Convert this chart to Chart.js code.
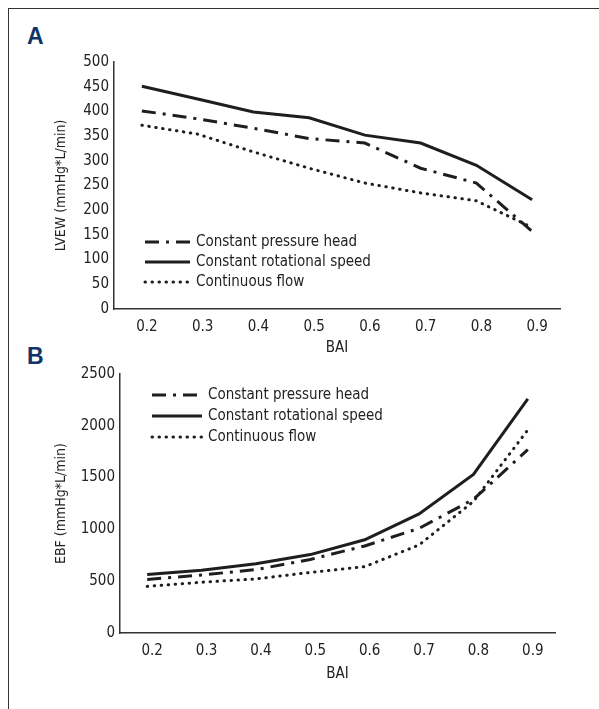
<!DOCTYPE html>
<html>
<head>
<meta charset="utf-8">
<title>LVEW and EBF vs BAI</title>
<script src="https://cdn.jsdelivr.net/npm/chart.js@4.4.1/dist/chart.umd.min.js"></script>
<style>
  body {
    margin: 0;
    background: #fff;
    width: 599px;
    height: 709px;
    position: relative;
    overflow: hidden;
  }
  .frame {
    position: absolute;
    left: 8px;
    top: 8px;
    right: 0;
    bottom: 0;
    border-top: 1px solid #333;
    border-left: 1px solid #333;
  }
  .tag {
    position: absolute;
    left: 27px;
    font: bold 23px "Liberation Sans", Arial, sans-serif;
    line-height: 1;
    color: #10346a;
  }
  canvas {
    position: absolute;
    left: 10px;
  }
</style>
</head>
<body>
<div class="frame"></div>
<div class="tag" style="top:25px">A</div>
<div class="tag" style="top:345px">B</div>
<canvas id="lvewChart" width="580" height="340" style="top:20px"></canvas>
<canvas id="ebfChart" width="580" height="345" style="top:360px"></canvas>
<script>
// BAI categories
const bai = ["0.2", "0.3", "0.4", "0.5", "0.6", "0.7", "0.8", "0.9"];
const seriesNames = ["Constant pressure head", "Constant rotational speed", "Continuous flow"];

// A: LVEW (mmHg*L/min)
const lvewPressureHead = [401, 385, 366, 345, 336, 285, 255, 157];
const lvewRotationalSpeed = [451, 425, 399, 387, 352, 336, 291, 221];
const lvewContinuousFlow = [372, 354, 318, 285, 255, 235, 219, 165];

// B: EBF (mmHg*L/min)
const ebfPressureHead = [517, 560, 612, 710, 840, 1010, 1290, 1770];
const ebfRotationalSpeed = [565, 605, 668, 757, 900, 1150, 1530, 2260];
const ebfContinuousFlow = [450, 490, 522, 585, 640, 850, 1270, 1960];

const FONT = "'Liberation Sans Narrow', 'DejaVu Sans Condensed', sans-serif";
const INK = "#222";

// legend drawn inside the plot, line sample + label
const lineKey = {
  id: "lineKey",
  afterDatasetsDraw(chart, args, opts) {
    const { ctx, chartArea } = chart;
    ctx.save();
    chart.data.datasets.forEach((ds, i) => {
      const x = chartArea.left + opts.x;
      const y = chartArea.top + opts.y + i * opts.gap;
      ctx.beginPath();
      ctx.setLineDash(ds.borderDash || []);
      ctx.lineCap = ds.borderCapStyle || "butt";
      ctx.lineWidth = ds.borderWidth;
      ctx.strokeStyle = ds.borderColor;
      ctx.moveTo(x, y);
      ctx.lineTo(x + opts.len, y);
      ctx.stroke();
      ctx.setLineDash([]);
      ctx.fillStyle = INK;
      ctx.font = "15px " + FONT;
      ctx.textBaseline = "middle";
      ctx.fillText(ds.label, x + opts.len + 6, y);
    });
    ctx.restore();
  }
};

function lineSet(label, data, style) {
  return Object.assign({
    label,
    data,
    borderColor: "#1e1e1e",
    borderWidth: 3,
    pointRadius: 0,
    fill: false,
    tension: 0
  }, style);
}

const dashDot = { borderDash: [14, 7, 3, 7] };
const solid = {};
const dotted = { borderDash: [0.5, 6.5], borderCapStyle: "round" };

function makeChart(id, values, cfg) {
  const ctx = document.getElementById(id).getContext("2d");
  return new Chart(ctx, {
    type: "line",
    data: {
      labels: bai,
      datasets: [
        lineSet(seriesNames[0], values[0], dashDot),
        lineSet(seriesNames[1], values[1], solid),
        lineSet(seriesNames[2], values[2], dotted)
      ]
    },
    plugins: [lineKey],
    options: {
      responsive: false,
      animation: false,
      devicePixelRatio: 1,
      layout: { padding: cfg.padding },
      plugins: {
        legend: { display: false },
        tooltip: { enabled: false },
        lineKey: cfg.key
      },
      scales: {
        x: {
          offset: true,
          grid: { display: false, drawTicks: false },
          border: { display: true, color: "#333", width: 1.5 },
          ticks: { color: INK, font: { family: FONT, size: 15 }, padding: 9, labelOffset: 5 },
          title: {
            display: true, text: "BAI", color: INK,
            font: { family: FONT, size: 15 },
            padding: { top: 0, bottom: cfg.xTitlePad }
          },
          afterFit(s) { s.height = cfg.xHeight; }
        },
        y: {
          min: 0,
          max: cfg.max,
          grid: { display: false, drawTicks: false },
          border: { display: true, color: "#333", width: 1.5 },
          ticks: {
            stepSize: cfg.step, color: INK, font: { family: FONT, size: 15 }, padding: 5,
            callback: v => String(v)
          },
          title: {
            display: true, text: cfg.yTitle, color: INK,
            font: { family: FONT, size: 14 },
            padding: { top: 43, bottom: 0 }
          },
          afterFit(s) { s.width = cfg.yWidth; }
        }
      }
    }
  });
}

makeChart("lvewChart", [lvewPressureHead, lvewRotationalSpeed, lvewContinuousFlow], {
  padding: { top: 42, right: 30, left: 0, bottom: 0 },
  max: 500, step: 50,
  yTitle: "LVEW (mmHg*L/min)",
  yWidth: 104, xHeight: 51, xTitlePad: 3,
  key: { x: 31, y: 180, gap: 20, len: 45 }
});

makeChart("ebfChart", [ebfPressureHead, ebfRotationalSpeed, ebfContinuousFlow], {
  padding: { top: 12, right: 35, left: 0, bottom: 0 },
  max: 2500, step: 500,
  yTitle: "EBF (mmHg*L/min)",
  yWidth: 110, xHeight: 72, xTitlePad: 22,
  key: { x: 32, y: 21, gap: 21, len: 50 }
});
</script>
</body>
</html>
